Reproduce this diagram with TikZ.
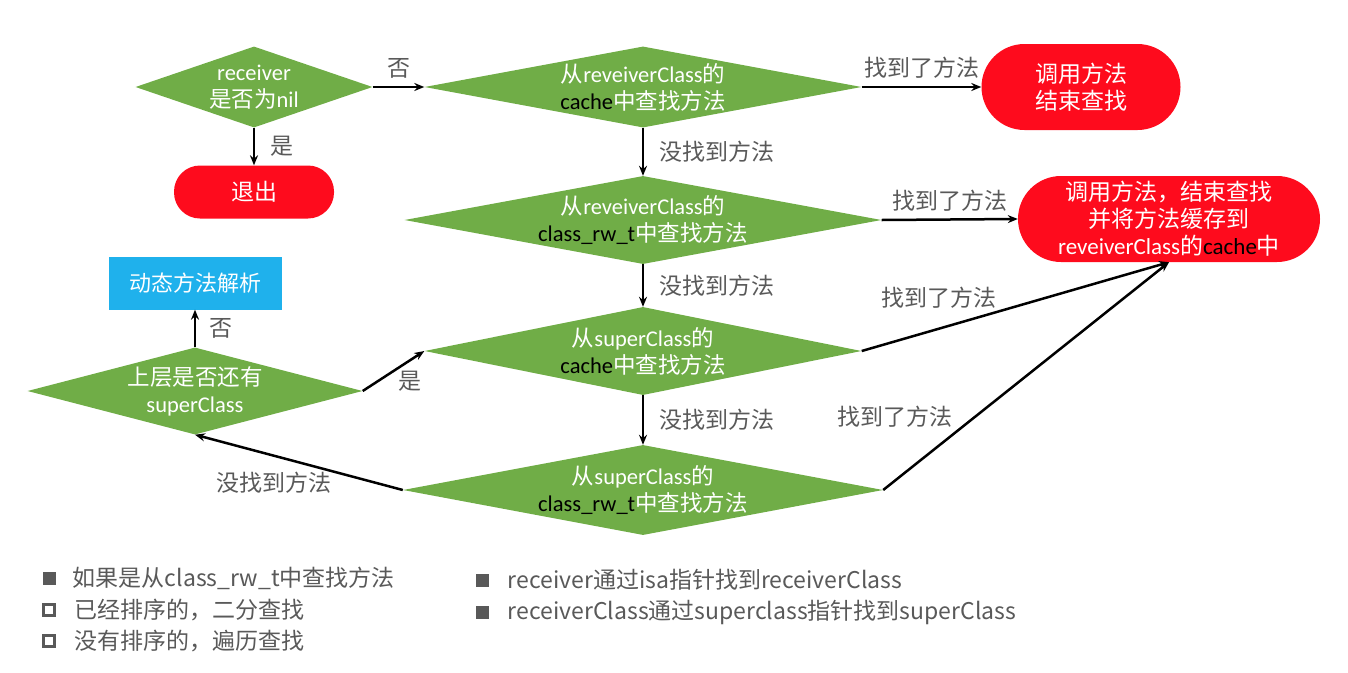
\documentclass[tikz,border=0pt]{standalone}
\usepackage{fontspec}
\setmainfont{Noto Sans CJK SC}
\newfontfamily\engfont{Carlito}
\newcommand{\eng}[1]{{\engfont #1}}
\usepackage{tikz}
\usetikzlibrary{positioning,calc,shapes.geometric,arrows.meta}
\definecolor{flowgreen}{HTML}{70AD47}
\definecolor{flowred}{HTML}{FE0B1D}
\definecolor{flowblue}{HTML}{1FB1EC}
\definecolor{labelgray}{HTML}{595959}

\begin{document}
\begin{tikzpicture}[x=1pt,y=-1pt,
    >={Stealth[length=10pt,width=8pt]},
    dia/.style={diamond, fill=flowgreen, inner sep=0pt},
    diatext/.style={text=white, align=center, font=\fontsize{22.5}{27}\selectfont},
    stopbox/.style={rectangle, fill=flowred, text=white, align=center, inner sep=0pt, font=\fontsize{23}{27}\selectfont},
    flow/.style={->, line width=2.5pt},
    lbl/.style={text=labelgray, font=\fontsize{23}{27}\selectfont},
    legend/.style={text=labelgray, font=\fontsize{23}{27}\selectfont, anchor=west, inner sep=0pt}]
    \useasboundingbox (0,0) rectangle (1348,672);

    \node[dia, minimum width=237, minimum height=81, label={[diatext]center:\eng{receiver}\\是否为\eng{nil}}] (nilq) at (254,87) {};
    \node[dia, minimum width=437, minimum height=81, label={[diatext]center:从\eng{reveiverClass}的\\\textcolor{black}{\eng{cache}}中查找方法}] (rcache) at (643,87) {};
    \node[stopbox, rounded corners=43pt, minimum width=199, minimum height=86] (found1) at (1081,87) {调用方法\\结束查找};
    \node[stopbox, rounded corners=26pt, minimum width=160, minimum height=53] (quit) at (254,192) {退出};

    \node[dia, minimum width=477, minimum height=88, label={[diatext]center:从\eng{reveiverClass}的\\\textcolor{black}{\eng{class\_rw\_t}}中查找方法}] (rrw) at (643,220) {};
    \node[stopbox, rounded corners=43pt, minimum width=302, minimum height=86] (found2) at (1169,219) {调用方法，结束查找\\并将方法缓存到\\\eng{reveiverClass}的\textcolor{black}{\eng{cache}}中};

    \node[dia, minimum width=437, minimum height=88, label={[diatext]center:从\eng{superClass}的\\\textcolor{black}{\eng{cache}}中查找方法}] (scache) at (643,351) {};
    \node[dia, minimum width=480, minimum height=90, label={[diatext]center:从\eng{superClass}的\\\textcolor{black}{\eng{class\_rw\_t}}中查找方法}] (srw) at (643,490) {};

    \node[dia, minimum width=335, minimum height=87, label={[diatext]center:上层是否还有\\\eng{superClass}}] (superq) at (195,391) {};
    \node[rectangle, fill=flowblue, text=white, minimum width=173, minimum height=53, font=\fontsize{22}{27}\selectfont] (resolve) at (195,283) {动态方法解析};

    \draw[flow] (nilq.east) -- node[lbl, above=4pt] {否} (rcache.west);
    \draw[flow] (nilq.south) -- node[lbl, right=12pt] {是} (quit.north);
    \draw[flow] (rcache.east) -- node[lbl, above=4pt] {找到了方法} (found1.west);
    \draw[flow] (rcache.south) -- node[lbl, right=12pt] {没找到方法} (rrw.north);
    \draw[flow] (rrw.east) -- node[lbl, above=4pt] {找到了方法} (found2.west);
    \draw[flow] (rrw.south) -- node[lbl, right=12pt] {没找到方法} (scache.north);
    \draw[flow] (scache.east) -- node[lbl, pos=0.25, above=16pt] {找到了方法} (found2.south);
    \draw[flow] (scache.south) -- node[lbl, right=12pt] {没找到方法} (srw.north);
    \draw[flow] (srw.east) -- node[lbl, pos=0.32, left=18pt] {找到了方法} (found2.south);
    \draw[flow] (srw.west) -- node[lbl, pos=0.62, below=12pt] {没找到方法} (superq.south);
    \draw[flow] (superq.east) -- node[lbl, pos=0.5, anchor=north west, yshift=4pt] {是} (scache.west);
    \draw[flow] (superq.north) -- node[lbl, right=10pt] {否} (resolve.south);

    % legend
    \node[fill=labelgray, minimum size=13, inner sep=0pt] (b1) at (49,578) {};
    \node[legend, right=17pt of b1] (t1) {如果是从class\_rw\_t中查找方法};
    \node[draw=labelgray, line width=3pt, minimum size=11, inner sep=0pt] (b2) at (49,610) {};
    \node[legend, right=18pt of b2] (t2) {已经排序的，二分查找};
    \node[draw=labelgray, line width=3pt, minimum size=11, inner sep=0pt] (b3) at (49,641) {};
    \node[legend, right=18pt of b3] (t3) {没有排序的，遍历查找};
    \node[fill=labelgray, minimum size=13, inner sep=0pt] (b4) at (482,580) {};
    \node[legend, right=19pt of b4] (t4) {receiver通过isa指针找到receiverClass};
    \node[fill=labelgray, minimum size=13, inner sep=0pt] (b5) at (482,612) {};
    \node[legend, right=19pt of b5] (t5) {receiverClass通过superclass指针找到superClass};
\end{tikzpicture}
\end{document}
